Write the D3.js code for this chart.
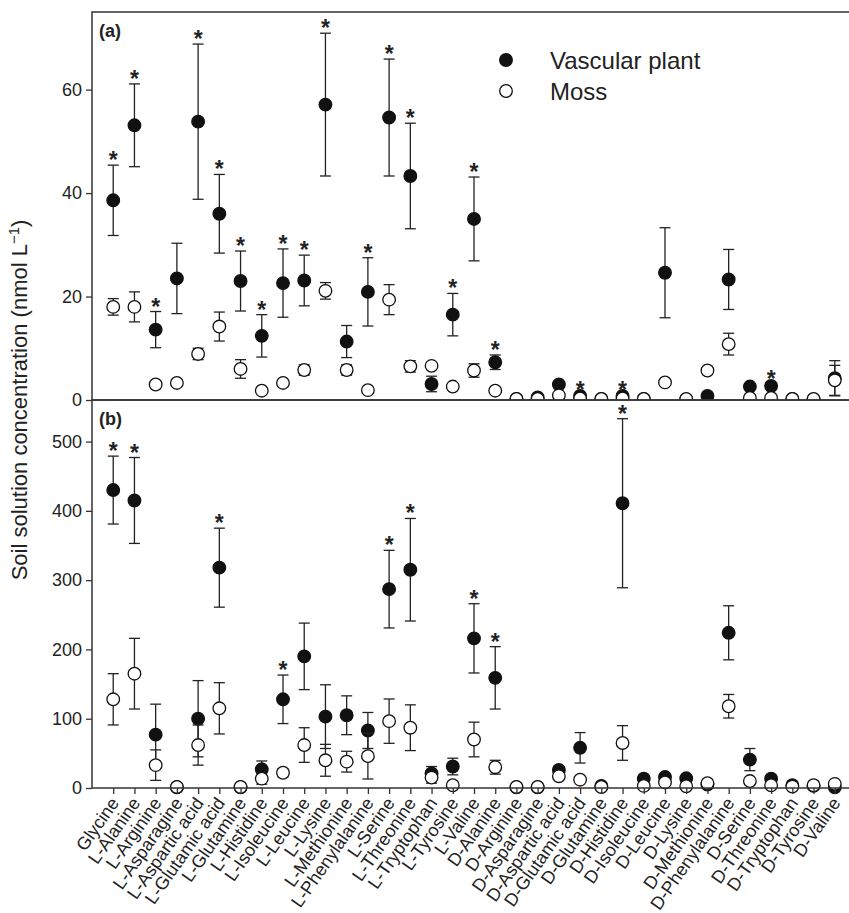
<!DOCTYPE html>
<html>
<head>
<meta charset="utf-8">
<script src="https://cdn.jsdelivr.net/npm/d3@7"></script>
<style>
  body { margin: 0; background: #fff; }
  svg { display: block; font-family: "Liberation Sans", Arial, sans-serif; }
  .frame { fill: none; stroke: #333; stroke-width: 1.5; }
  .axis path { display: none; }
  .axis line { stroke: #333; stroke-width: 1.3; }
  .axis text { fill: #222; font-size: 18px; font-family: "Liberation Sans", Arial, sans-serif; }
  .err { stroke: #222; stroke-width: 1.3; fill: none; }
</style>
</head>
<body>
<div id="chart"></div>
<script>
// Amino acids on the x axis.
var aminoAcids = ['Glycine', 'L-Alanine', 'L-Arginine', 'L-Asparagine', 'L-Aspartic acid',
  'L-Glutamic acid', 'L-Glutamine', 'L-Histidine', 'L-Isoleucine', 'L-Leucine', 'L-Lysine',
  'L-Methionine', 'L-Phenylalanine', 'L-Serine', 'L-Threonine', 'L-Tryptophan', 'L-Tyrosine',
  'L-Valine', 'D-Alanine', 'D-Arginine', 'D-Asparagine', 'D-Aspartic acid', 'D-Glutamic acid',
  'D-Glutamine', 'D-Histidine', 'D-Isoleucine', 'D-Leucine', 'D-Lysine', 'D-Methionine',
  'D-Phenylalanine', 'D-Serine', 'D-Threonine', 'D-Tryptophan', 'D-Tyrosine', 'D-Valine'];

// Panel (a): mean and SE, vascular plant and moss.
var vascA = [38.6, 53.1, 13.6, 23.5, 53.8, 36.0, 23.0, 12.4, 22.6, 23.1, 57.1, 11.3, 20.9, 54.6, 43.3,
  3.1, 16.5, 35.0, 7.3, 0.2, 0.5, 3.0, 0.8, 0.2, 0.8, 0.2, 24.6, 0.1, 0.8, 23.3, 2.6, 2.7, 0.2, 0.1, 4.2];
var vascAse = [6.8, 8.0, 3.5, 6.8, 15.0, 7.6, 5.8, 4.1, 6.6, 4.9, 13.8, 3.1, 6.6, 11.3, 10.2,
  1.5, 4.1, 8.1, 1.4, 0.05, 0.1, 0.4, 0.2, 0.05, 0.1, 0.05, 8.7, 0.05, 0.2, 5.8, 0.4, 0.4, 0.05, 0.05, 3.4];
var mossA = [18.0, 18.0, 3.0, 3.3, 8.9, 14.2, 6.0, 1.8, 3.3, 5.8, 21.1, 5.8, 1.9, 19.4, 6.5,
  6.6, 2.6, 5.7, 1.8, 0.2, 0.2, 0.9, 0.3, 0.2, 0.3, 0.2, 3.4, 0.2, 5.7, 10.8, 0.4, 0.4, 0.2, 0.2, 3.8];
var mossAse = [1.6, 2.9, 0.3, 0.3, 1.1, 2.8, 1.8, 0.2, 0.3, 1.0, 1.6, 1.0, 0.2, 2.9, 1.1,
  0.4, 0.2, 1.3, 0.2, 0.05, 0.05, 0.1, 0.05, 0.05, 0.05, 0.05, 0.3, 0.05, 0.3, 2.1, 0.1, 0.1, 0.05, 0.05, 2.9];
var starsA = ['Glycine', 'L-Alanine', 'L-Arginine', 'L-Aspartic acid', 'L-Glutamic acid', 'L-Glutamine',
  'L-Histidine', 'L-Isoleucine', 'L-Leucine', 'L-Lysine', 'L-Phenylalanine', 'L-Serine', 'L-Threonine',
  'L-Tyrosine', 'L-Valine', 'D-Alanine', 'D-Glutamic acid', 'D-Histidine', 'D-Threonine'];

// Panel (b): mean and SE, vascular plant and moss.
var vascB = [430, 415, 77, 1, 100, 318, 1, 27, 128, 190, 103, 105, 83, 287, 315,
  21, 31, 216, 159, 1, 1, 26, 58, 3, 411, 13.5, 16, 14, 5, 224, 41, 13.5, 4, 3, 1];
var vascBse = [49, 62, 44, 0.5, 55, 57, 0.5, 12, 35, 48, 46, 28, 26, 56, 74,
  10, 12, 50, 45, 0.5, 0.5, 5, 22, 1, 122, 3, 3, 4, 1, 39, 16, 3, 1, 1, 0.5];
var mossB = [128, 165, 33, 1.5, 62, 115, 1.5, 13.5, 22, 62, 40, 38, 46, 96.5, 87,
  15, 4, 70, 30, 1.5, 1.5, 17, 12, 1.5, 65, 3, 8, 2.5, 7, 118, 10, 4, 2, 4, 6];
var mossBse = [37, 51, 22, 0.5, 29, 37, 0.5, 8, 6, 25, 23, 15, 33, 32, 33,
  8, 1, 25, 10, 0.5, 0.5, 3, 2, 0.5, 25, 1, 2, 1, 2, 17, 3, 1, 1, 1, 2];
var starsB = ['Glycine', 'L-Alanine', 'L-Glutamic acid', 'L-Isoleucine', 'L-Serine', 'L-Threonine',
  'L-Valine', 'D-Alanine', 'D-Histidine'];

var ticksA = [0, 20, 40, 60];
var ticksB = [0, 100, 200, 300, 400, 500];

var width = 849, height = 913;
var left = 92, right = 856;

var svg = d3.select('#chart').append('svg')
  .attr('width', width)
  .attr('height', height);

var x = d3.scaleLinear().domain([-1, aminoAcids.length]).range([left, right]);

function drawPanel(opt) {
  var y = d3.scaleLinear().domain(opt.domain).range([opt.bottom, opt.top]);
  var g = svg.append('g');

  var clipId = 'clip-' + opt.label;
  svg.append('clipPath').attr('id', clipId)
    .append('rect')
    .attr('x', left).attr('y', opt.top)
    .attr('width', width - left).attr('height', opt.clip ? opt.bottom - opt.top : height - opt.top);

  var plot = g.append('g').attr('clip-path', 'url(#' + clipId + ')');

  function series(mean, se, fill) {
    var rows = mean.map(function(m, i) { return { i: i, m: m, se: se[i] }; });
    var bars = plot.append('g');
    rows.forEach(function(d) {
      var cx = x(d.i);
      bars.append('line').attr('class', 'err')
        .attr('x1', cx).attr('x2', cx)
        .attr('y1', y(d.m - d.se)).attr('y2', y(d.m + d.se));
      [d.m - d.se, d.m + d.se].forEach(function(v) {
        bars.append('line').attr('class', 'err')
          .attr('x1', cx - 5.5).attr('x2', cx + 5.5)
          .attr('y1', y(v)).attr('y2', y(v));
      });
    });
    plot.append('g').selectAll('circle')
      .data(rows)
      .enter()
      .append('circle')
      .attr('cx', function(d) { return x(d.i); })
      .attr('cy', function(d) { return y(d.m); })
      .attr('r', 6.3)
      .attr('fill', fill)
      .attr('stroke', '#111')
      .attr('stroke-width', 1.3);
  }

  series(opt.vasc, opt.vascSe, '#111');
  series(opt.moss, opt.mossSe, '#fff');

  // Significance stars above the highest error bar.
  g.append('g').selectAll('text')
    .data(opt.stars)
    .enter()
    .append('text')
    .attr('x', function(d) { return x(aminoAcids.indexOf(d)); })
    .attr('y', function(d) {
      var i = aminoAcids.indexOf(d);
      var top = Math.max(opt.vasc[i] + opt.vascSe[i], opt.moss[i] + opt.mossSe[i]);
      return y(top) + 3;
    })
    .attr('text-anchor', 'middle')
    .attr('font-size', 23)
    .attr('font-weight', 'bold')
    .attr('fill', '#222')
    .text('*');

  // Frame.
  g.append('rect').attr('class', 'frame')
    .attr('x', left).attr('y', opt.top)
    .attr('width', right - left).attr('height', opt.bottom - opt.top);

  g.append('g').attr('class', 'axis')
    .attr('transform', 'translate(' + left + ',0)')
    .call(d3.axisLeft(y).tickValues(opt.ticks).tickSize(6).tickPadding(4));

  g.append('text')
    .attr('x', 99).attr('y', opt.top + 25)
    .attr('font-size', 18).attr('font-weight', 'bold').attr('fill', '#222')
    .text('(' + opt.label + ')');

  return y;
}

drawPanel({ label: 'a', top: 12, bottom: 400, domain: [0, 75], ticks: ticksA, clip: true,
  vasc: vascA, vascSe: vascAse, moss: mossA, mossSe: mossAse, stars: starsA });
drawPanel({ label: 'b', top: 400, bottom: 788, domain: [0, 560], ticks: ticksB, clip: false,
  vasc: vascB, vascSe: vascBse, moss: mossB, mossSe: mossBse, stars: starsB });

// X axis with rotated amino acid names.
var xAxis = svg.append('g').attr('class', 'axis')
  .attr('transform', 'translate(0,788)')
  .call(d3.axisBottom(x)
    .tickValues(d3.range(aminoAcids.length))
    .tickSize(6)
    .tickFormat(function(i) { return aminoAcids[i]; }));
xAxis.selectAll('text')
  .attr('text-anchor', 'end')
  .attr('dy', null)
  .attr('y', 0)
  .attr('font-size', 18)
  .attr('transform', 'translate(6,15) rotate(-55)');

// Legend.
var legend = svg.append('g');
[['Vascular plant', '#111', 60], ['Moss', '#fff', 91]].forEach(function(d) {
  legend.append('circle').attr('cx', 506).attr('cy', d[2]).attr('r', 6.3)
    .attr('fill', d[1]).attr('stroke', '#111').attr('stroke-width', 1.3);
  legend.append('text').attr('x', 550).attr('y', d[2] + 8.5)
    .attr('font-size', 24).attr('fill', '#222').text(d[0]);
});

// Y axis title.
svg.append('text')
  .attr('transform', 'translate(27,400) rotate(-90)')
  .attr('text-anchor', 'middle')
  .attr('font-size', 22)
  .attr('fill', '#222')
  .text('Soil solution concentration (nmol L')
  .append('tspan').attr('dy', -8).attr('font-size', 15).text('\u22121')
  .select(function() { return this.parentNode; })
  .append('tspan').attr('dy', 8).text(')');
</script>
</body>
</html>
